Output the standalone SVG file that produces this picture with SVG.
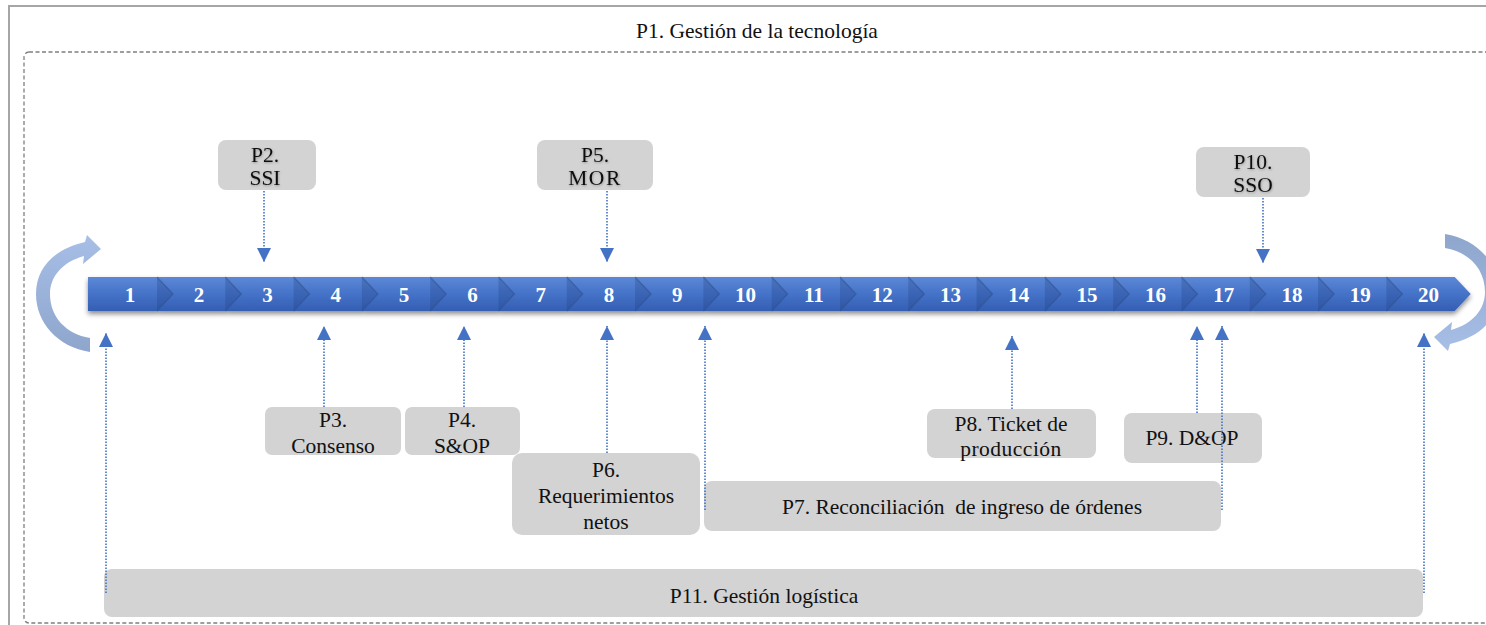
<svg xmlns="http://www.w3.org/2000/svg" width="1486" height="625" viewBox="0 0 1486 625">
  <style>
    .lbl { font-family: "Liberation Serif", "Times New Roman", serif; font-size: 21.5px; fill: #111; text-anchor: middle; white-space: pre; }
    .num { font-family: "Liberation Serif", "Times New Roman", serif; font-size: 21px; font-weight: bold; fill: #fff; text-anchor: middle; }
    .box { fill: #d3d3d3; }
    .conn { stroke: #4472c4; stroke-width: 1.6; stroke-dasharray: 1.6 1.4; fill: none; marker-end: url(#head); }
    .chev { fill: url(#chevFill); }
    .edge { fill: none; stroke: #284a8c; stroke-opacity: 0.55; stroke-width: 1.2; }
    .tipShade { fill: #1f3f80; fill-opacity: 0.28; }
  </style>
  <defs>
    <linearGradient id="chevFill" x1="0" y1="0" x2="0" y2="1">
      <stop offset="0" stop-color="#5c88d6"/>
      <stop offset="0.5" stop-color="#4572c8"/>
      <stop offset="1" stop-color="#335fb2"/>
    </linearGradient>
    <linearGradient id="loopFill" x1="0" y1="0" x2="0" y2="1">
      <stop offset="0" stop-color="#a7bfe6"/>
      <stop offset="1" stop-color="#8ea5cc"/>
    </linearGradient>
    <filter id="stripShadow" x="-5%" y="-30%" width="110%" height="180%">
      <feDropShadow dx="0" dy="3" stdDeviation="2.5" flood-color="#000" flood-opacity="0.45"/>
    </filter>
    <filter id="txtShadow" x="-10%" y="-20%" width="120%" height="150%">
      <feDropShadow dx="0.5" dy="1" stdDeviation="0.8" flood-color="#000" flood-opacity="0.3"/>
    </filter>
    <marker id="head" viewBox="0 0 14 14" refX="14" refY="7" markerWidth="14" markerHeight="14" markerUnits="userSpaceOnUse" orient="auto">
      <path d="M0,0 L14,7 L0,14 Z" fill="#4472c4"/>
    </marker>
    <path id="loopShape" d="M90,352 C58,347 36,323 36,294 C36,268 54,249 85,242 L87,235 L101,249 L83,264 L84,256 C62,262 50,277 50,294 C50,317 66,334 90,338 Z"/>
  </defs>

  <rect width="1486" height="625" fill="#fff"/>

  <!-- outer frame and technology area -->
  <g id="frame">
    <path d="M9,625 L9,6 L1486,6" fill="none" stroke="#a6a6a6" stroke-width="2"/>
    <rect x="24" y="52" width="1480" height="571" rx="5" fill="none" stroke="#7f7f7f" stroke-width="1.3" stroke-dasharray="4 2.5"/>
  </g>

  <g id="p1">
    <text class="lbl" x="757" y="38">P1. Gestión de la tecnología</text>
  </g>

  <!-- loop arrows at both ends of the timeline -->
  <g id="loop-left">
    <use href="#loopShape" fill="url(#loopFill)"/>
  </g>
  <g id="loop-right">
    <use href="#loopShape" transform="rotate(180 767.5 293)" fill="url(#loopFill)"/>
  </g>

  <!-- timeline: 20 chevrons -->
  <g id="timeline">
    <g filter="url(#stripShadow)">
      <path class="chev" d="M88,277 L157,277 L173,294 L157,311 L88,311 Z"/>
      <path class="chev" d="M157,277 L225.3,277 L241.3,294 L225.3,311 L157,311 L173,294 Z"/>
      <path class="chev" d="M225.3,277 L293.6,277 L309.6,294 L293.6,311 L225.3,311 L241.3,294 Z"/>
      <path class="chev" d="M293.6,277 L361.9,277 L377.9,294 L361.9,311 L293.6,311 L309.6,294 Z"/>
      <path class="chev" d="M361.9,277 L430.2,277 L446.2,294 L430.2,311 L361.9,311 L377.9,294 Z"/>
      <path class="chev" d="M430.2,277 L498.5,277 L514.5,294 L498.5,311 L430.2,311 L446.2,294 Z"/>
      <path class="chev" d="M498.5,277 L566.8,277 L582.8,294 L566.8,311 L498.5,311 L514.5,294 Z"/>
      <path class="chev" d="M566.8,277 L635.1,277 L651.1,294 L635.1,311 L566.8,311 L582.8,294 Z"/>
      <path class="chev" d="M635.1,277 L703.4,277 L719.4,294 L703.4,311 L635.1,311 L651.1,294 Z"/>
      <path class="chev" d="M703.4,277 L771.7,277 L787.7,294 L771.7,311 L703.4,311 L719.4,294 Z"/>
      <path class="chev" d="M771.7,277 L840,277 L856,294 L840,311 L771.7,311 L787.7,294 Z"/>
      <path class="chev" d="M840,277 L908.3,277 L924.3,294 L908.3,311 L840,311 L856,294 Z"/>
      <path class="chev" d="M908.3,277 L976.6,277 L992.6,294 L976.6,311 L908.3,311 L924.3,294 Z"/>
      <path class="chev" d="M976.6,277 L1044.9,277 L1060.9,294 L1044.9,311 L976.6,311 L992.6,294 Z"/>
      <path class="chev" d="M1044.9,277 L1113.2,277 L1129.2,294 L1113.2,311 L1044.9,311 L1060.9,294 Z"/>
      <path class="chev" d="M1113.2,277 L1181.5,277 L1197.5,294 L1181.5,311 L1113.2,311 L1129.2,294 Z"/>
      <path class="chev" d="M1181.5,277 L1249.8,277 L1265.8,294 L1249.8,311 L1181.5,311 L1197.5,294 Z"/>
      <path class="chev" d="M1249.8,277 L1318.1,277 L1334.1,294 L1318.1,311 L1249.8,311 L1265.8,294 Z"/>
      <path class="chev" d="M1318.1,277 L1386.4,277 L1402.4,294 L1386.4,311 L1318.1,311 L1334.1,294 Z"/>
      <path class="chev" d="M1386.4,277 L1454.7,277 L1470.7,294 L1454.7,311 L1386.4,311 L1402.4,294 Z"/>
    </g>
    <!-- shading where each point meets the next chevron -->
    <g>
      <path class="tipShade" d="M157,277 L173,294 L157,311 Z"/>
      <path class="tipShade" d="M225.3,277 L241.3,294 L225.3,311 Z"/>
      <path class="tipShade" d="M293.6,277 L309.6,294 L293.6,311 Z"/>
      <path class="tipShade" d="M361.9,277 L377.9,294 L361.9,311 Z"/>
      <path class="tipShade" d="M430.2,277 L446.2,294 L430.2,311 Z"/>
      <path class="tipShade" d="M498.5,277 L514.5,294 L498.5,311 Z"/>
      <path class="tipShade" d="M566.8,277 L582.8,294 L566.8,311 Z"/>
      <path class="tipShade" d="M635.1,277 L651.1,294 L635.1,311 Z"/>
      <path class="tipShade" d="M703.4,277 L719.4,294 L703.4,311 Z"/>
      <path class="tipShade" d="M771.7,277 L787.7,294 L771.7,311 Z"/>
      <path class="tipShade" d="M840,277 L856,294 L840,311 Z"/>
      <path class="tipShade" d="M908.3,277 L924.3,294 L908.3,311 Z"/>
      <path class="tipShade" d="M976.6,277 L992.6,294 L976.6,311 Z"/>
      <path class="tipShade" d="M1044.9,277 L1060.9,294 L1044.9,311 Z"/>
      <path class="tipShade" d="M1113.2,277 L1129.2,294 L1113.2,311 Z"/>
      <path class="tipShade" d="M1181.5,277 L1197.5,294 L1181.5,311 Z"/>
      <path class="tipShade" d="M1249.8,277 L1265.8,294 L1249.8,311 Z"/>
      <path class="tipShade" d="M1318.1,277 L1334.1,294 L1318.1,311 Z"/>
      <path class="tipShade" d="M1386.4,277 L1402.4,294 L1386.4,311 Z"/>
    </g>
    <g>
      <path class="edge" d="M157,277 L173,294 L157,311"/>
      <path class="edge" d="M225.3,277 L241.3,294 L225.3,311"/>
      <path class="edge" d="M293.6,277 L309.6,294 L293.6,311"/>
      <path class="edge" d="M361.9,277 L377.9,294 L361.9,311"/>
      <path class="edge" d="M430.2,277 L446.2,294 L430.2,311"/>
      <path class="edge" d="M498.5,277 L514.5,294 L498.5,311"/>
      <path class="edge" d="M566.8,277 L582.8,294 L566.8,311"/>
      <path class="edge" d="M635.1,277 L651.1,294 L635.1,311"/>
      <path class="edge" d="M703.4,277 L719.4,294 L703.4,311"/>
      <path class="edge" d="M771.7,277 L787.7,294 L771.7,311"/>
      <path class="edge" d="M840,277 L856,294 L840,311"/>
      <path class="edge" d="M908.3,277 L924.3,294 L908.3,311"/>
      <path class="edge" d="M976.6,277 L992.6,294 L976.6,311"/>
      <path class="edge" d="M1044.9,277 L1060.9,294 L1044.9,311"/>
      <path class="edge" d="M1113.2,277 L1129.2,294 L1113.2,311"/>
      <path class="edge" d="M1181.5,277 L1197.5,294 L1181.5,311"/>
      <path class="edge" d="M1249.8,277 L1265.8,294 L1249.8,311"/>
      <path class="edge" d="M1318.1,277 L1334.1,294 L1318.1,311"/>
      <path class="edge" d="M1386.4,277 L1402.4,294 L1386.4,311"/>
    </g>
    <g>
      <text class="num" x="130" y="302">1</text>
      <text class="num" x="199" y="302">2</text>
      <text class="num" x="267.5" y="302">3</text>
      <text class="num" x="335.8" y="302">4</text>
      <text class="num" x="404.1" y="302">5</text>
      <text class="num" x="472.4" y="302">6</text>
      <text class="num" x="540.7" y="302">7</text>
      <text class="num" x="609" y="302">8</text>
      <text class="num" x="677.3" y="302">9</text>
      <text class="num" x="745.6" y="302">10</text>
      <text class="num" x="813.9" y="302">11</text>
      <text class="num" x="882.2" y="302">12</text>
      <text class="num" x="950.5" y="302">13</text>
      <text class="num" x="1018.8" y="302">14</text>
      <text class="num" x="1087.1" y="302">15</text>
      <text class="num" x="1155.4" y="302">16</text>
      <text class="num" x="1223.7" y="302">17</text>
      <text class="num" x="1292" y="302">18</text>
      <text class="num" x="1360.3" y="302">19</text>
      <text class="num" x="1428.6" y="302">20</text>
    </g>
  </g>

  <!-- process boxes -->
  <g id="p2">
    <rect class="box" x="218" y="140" width="98" height="50" rx="8"/>
    <text class="lbl" x="265" y="162" filter="url(#txtShadow)">P2.</text>
    <text class="lbl" x="265" y="185" filter="url(#txtShadow)">SSI</text>
  </g>
  <g id="p5">
    <rect class="box" x="537" y="140" width="116" height="50" rx="8"/>
    <text class="lbl" x="595" y="162" filter="url(#txtShadow)">P5.</text>
    <text class="lbl" x="595" y="185" letter-spacing="1.5" filter="url(#txtShadow)">MOR</text>
  </g>
  <g id="p10">
    <rect class="box" x="1196" y="147" width="114" height="50" rx="8"/>
    <text class="lbl" x="1253" y="169" filter="url(#txtShadow)">P10.</text>
    <text class="lbl" x="1253" y="192" filter="url(#txtShadow)">SSO</text>
  </g>
  <g id="p3">
    <rect class="box" x="265" y="407" width="136" height="48" rx="7"/>
    <text class="lbl" x="333" y="427">P3.</text>
    <text class="lbl" x="333" y="453">Consenso</text>
  </g>
  <g id="p4">
    <rect class="box" x="405" y="407" width="115" height="48" rx="7"/>
    <text class="lbl" x="462" y="427">P4.</text>
    <text class="lbl" x="462" y="453">S&amp;OP</text>
  </g>
  <g id="p6">
    <rect class="box" x="512" y="453" width="188" height="82" rx="10"/>
    <text class="lbl" x="606" y="477">P6.</text>
    <text class="lbl" x="606" y="503">Requerimientos</text>
    <text class="lbl" x="606" y="529">netos</text>
  </g>
  <g id="p7">
    <rect class="box" x="704" y="481" width="517" height="50" rx="8"/>
    <text class="lbl" x="962" y="514">P7. Reconciliación  de ingreso de órdenes</text>
  </g>
  <g id="p8">
    <rect class="box" x="927" y="409" width="169" height="49" rx="8"/>
    <text class="lbl" x="1011" y="431">P8. Ticket de</text>
    <text class="lbl" x="1011" y="456" letter-spacing="0.5">producción</text>
  </g>
  <g id="p9">
    <rect class="box" x="1124" y="413" width="138" height="50" rx="8"/>
    <text class="lbl" x="1192" y="445">P9. D&amp;OP</text>
  </g>
  <g id="p11">
    <rect class="box" x="104" y="569" width="1319" height="48" rx="8"/>
    <text class="lbl" x="764" y="603">P11. Gestión logística</text>
  </g>

  <!-- dotted connectors to the timeline -->
  <g id="connectors">
    <line class="conn" x1="264" y1="191" x2="264" y2="262"/>
    <line class="conn" x1="607" y1="191" x2="607" y2="262"/>
    <line class="conn" x1="1263" y1="198" x2="1263" y2="263"/>
    <line class="conn" x1="324" y1="407" x2="324" y2="326"/>
    <line class="conn" x1="464" y1="407" x2="464" y2="326"/>
    <line class="conn" x1="607" y1="453" x2="607" y2="326"/>
    <line class="conn" x1="705" y1="510" x2="705" y2="326"/>
    <line class="conn" x1="1222" y1="510" x2="1222" y2="326"/>
    <line class="conn" x1="1012" y1="409" x2="1012" y2="336"/>
    <line class="conn" x1="1197" y1="413" x2="1197" y2="326"/>
    <line class="conn" x1="106" y1="593" x2="106" y2="333"/>
    <line class="conn" x1="1424" y1="593" x2="1424" y2="333"/>
  </g>
</svg>
